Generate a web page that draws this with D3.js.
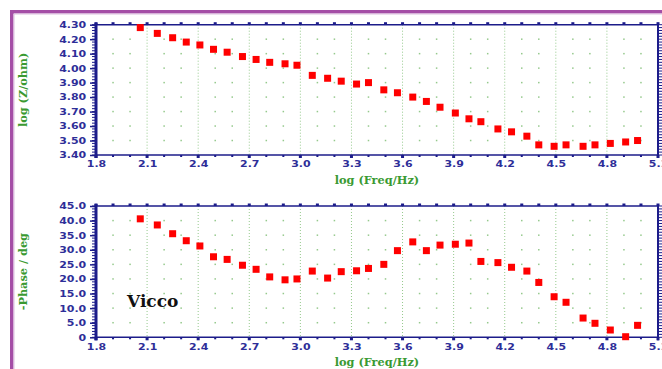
<!DOCTYPE html>
<html>
<head>
<meta charset="utf-8">
<script src="https://cdn.jsdelivr.net/npm/d3@7"></script>
<style>
  body { margin: 0; background: #fff; }
</style>
</head>
<body>
<svg id="chart" width="662" height="369"></svg>
<script>
// values
const log_freq = [2.06, 2.16, 2.25, 2.33, 2.41, 2.49, 2.57, 2.66, 2.74, 2.82, 2.91, 2.98,
                  3.07, 3.16, 3.24, 3.33, 3.40, 3.49, 3.57, 3.66, 3.74, 3.82, 3.91, 3.99,
                  4.06, 4.16, 4.24, 4.33, 4.40, 4.49, 4.56, 4.66, 4.73, 4.82, 4.91, 4.98];
const log_z = [4.28, 4.24, 4.21, 4.18, 4.16, 4.13, 4.11, 4.08, 4.06, 4.04, 4.03, 4.02,
               3.95, 3.93, 3.91, 3.89, 3.90, 3.85, 3.83, 3.80, 3.77, 3.73, 3.69, 3.65,
               3.63, 3.58, 3.56, 3.53, 3.47, 3.46, 3.47, 3.46, 3.47, 3.48, 3.49, 3.50];
const phase = [40.6, 38.5, 35.5, 33.1, 31.3, 27.6, 26.7, 24.7, 23.3, 20.7, 19.7, 20.0,
               22.7, 20.3, 22.5, 22.8, 23.6, 25.0, 29.7, 32.7, 29.7, 31.6, 31.9, 32.3,
               26.0, 25.6, 24.0, 22.7, 18.8, 13.9, 12.0, 6.6, 4.8, 2.5, 0.2, 4.1];

const x_ticks = [1.8, 2.1, 2.4, 2.7, 3.0, 3.3, 3.6, 3.9, 4.2, 4.5, 4.8, 5.1];
const z_ticks = [3.4, 3.5, 3.6, 3.7, 3.8, 3.9, 4.0, 4.1, 4.2, 4.3];
const phase_ticks = [0, 5, 10, 15, 20, 25, 30, 35, 40, 45];
const sample_name = "Vicco";

const svg = d3.select("#chart");
const navy = "#1c1c8a";
const label_blue = "#2e2e98";
const title_green = "#3a9a32";
const grid_green = "#95c98c";

// purple frame
svg.append("rect").attr("x", 10).attr("y", 10).attr("width", 652).attr("height", 3.5).attr("fill", "#a44ea6");
svg.append("rect").attr("x", 10).attr("y", 10).attr("width", 3.5).attr("height", 359).attr("fill", "#a44ea6");
svg.append("line").attr("x1", 14).attr("x2", 662).attr("y1", 14).attr("y2", 14).style("stroke", "#dcc0e0");
svg.append("line").attr("x1", 14).attr("x2", 14).attr("y1", 14).attr("y2", 369).style("stroke", "#dcc0e0");

const x_scale = d3.scaleLinear().domain([1.8, 5.1]).range([96, 658]);
const x_minor = d3.range(18, 52).map(d => d / 10);

function make_panel(y_scale, y_ticks, y_fmt, minor_step, values, y_title) {
  const g = svg.append("g");
  const [y_bot, y_top] = y_scale.range();
  const [x_left, x_right] = x_scale.range();
  const inner_y = y_ticks.slice(1, -1);

  // dotted major verticals
  g.selectAll(".vgrid")
    .data(x_ticks.slice(1, -1))
    .enter().append("line")
    .attr("x1", d => x_scale(d)).attr("x2", d => x_scale(d))
    .attr("y1", y_top).attr("y2", y_bot)
    .style("stroke", grid_green).style("stroke-width", 1)
    .style("stroke-dasharray", "1,2");

  // grid dots
  const dots = [];
  x_minor.filter(d => Math.round(d * 10) % 3 !== 0).forEach(xv => {
    inner_y.forEach(yv => dots.push([xv, yv]));
  });
  g.selectAll(".gdot")
    .data(dots)
    .enter().append("rect")
    .attr("x", d => x_scale(d[0]) - 0.75).attr("y", d => y_scale(d[1]) - 0.75)
    .attr("width", 1.5).attr("height", 1.5)
    .style("fill", grid_green);

  // top border with little squares
  g.append("line").attr("x1", x_left).attr("x2", x_right).attr("y1", y_top).attr("y2", y_top)
    .style("stroke", navy).style("stroke-width", 1.5);
  g.selectAll(".tsq")
    .data(x_minor)
    .enter().append("rect")
    .attr("x", d => x_scale(d) - 1.5).attr("y", y_top - 2.5)
    .attr("width", 3).attr("height", 2.5)
    .style("fill", navy);

  // bottom axis
  g.append("line").attr("x1", x_left).attr("x2", x_right).attr("y1", y_bot).attr("y2", y_bot)
    .style("stroke", navy).style("stroke-width", 1.5);
  g.selectAll(".bsq")
    .data(x_minor)
    .enter().append("rect")
    .attr("x", d => x_scale(d) - (Math.round(d * 10) % 3 === 0 ? 1.5 : 1))
    .attr("y", y_bot)
    .attr("width", d => Math.round(d * 10) % 3 === 0 ? 3 : 2)
    .attr("height", d => Math.round(d * 10) % 3 === 0 ? 3 : 2)
    .style("fill", navy);

  const x_axis = g.append("g")
    .attr("transform", `translate(0, ${y_bot})`)
    .call(d3.axisBottom(x_scale).tickValues(x_ticks).tickFormat(d3.format(".1f")).tickSize(0).tickPadding(6));
  x_axis.select(".domain").remove();
  x_axis.selectAll("text")
    .attr("transform", "scale(1.22,1)")
    .style("font-family", "DejaVu Sans").style("font-weight", "bold")
    .style("font-size", "9px").style("fill", label_blue);

  // left axis, thick with dense minor ticks
  const [d0, d1] = y_scale.domain();
  const minors = d3.range(0, Math.round((d1 - d0) / minor_step) + 1).map(i => d0 + i * minor_step);
  g.selectAll(".lminor")
    .data(minors)
    .enter().append("line")
    .attr("x1", x_left - 4).attr("x2", x_left)
    .attr("y1", d => y_scale(d)).attr("y2", d => y_scale(d))
    .style("stroke", navy).style("stroke-width", 1);
  g.selectAll(".rminor")
    .data(minors)
    .enter().append("line")
    .attr("x1", x_right - 1).attr("x2", x_right + 4)
    .attr("y1", d => y_scale(d)).attr("y2", d => y_scale(d))
    .style("stroke", navy).style("stroke-width", 1);

  const y_axis = g.append("g")
    .attr("transform", `translate(${x_left}, 0)`)
    .call(d3.axisLeft(y_scale).tickValues(y_ticks).tickFormat(y_fmt).tickSize(6).tickPadding(2));
  y_axis.select(".domain").remove();
  y_axis.selectAll("line").style("stroke", navy).style("stroke-width", 1.5);
  y_axis.selectAll("text")
    .attr("transform", "scale(1.22,1)")
    .style("font-family", "DejaVu Sans").style("font-weight", "bold")
    .style("font-size", "9px").style("fill", label_blue);

  g.append("line").attr("x1", x_left).attr("x2", x_left).attr("y1", y_top - 2).attr("y2", y_bot + 3)
    .style("stroke", navy).style("stroke-width", 3);
  g.append("line").attr("x1", x_right).attr("x2", x_right).attr("y1", y_top - 2).attr("y2", y_bot + 3)
    .style("stroke", navy).style("stroke-width", 2);

  // titles
  g.append("text")
    .attr("text-anchor", "middle")
    .attr("transform", `translate(${x_scale(3.45)}, ${y_bot + 29})`)
    .style("font-family", "DejaVu Serif").style("font-weight", "bold")
    .style("font-size", "11.3px").style("fill", title_green)
    .text("log (Freq/Hz)");
  g.append("text")
    .attr("text-anchor", "middle")
    .attr("transform", `translate(27, ${(y_top + y_bot) / 2}) rotate(-90)`)
    .style("font-family", "DejaVu Serif").style("font-weight", "bold")
    .style("font-size", "11.3px").style("fill", title_green)
    .text(y_title);

  // points
  g.selectAll(".pt")
    .data(log_freq.map((f, i) => [f, values[i]]))
    .enter().append("rect")
    .attr("x", d => x_scale(d[0]) - 3.5).attr("y", d => y_scale(d[1]) - 3.5)
    .attr("width", 7).attr("height", 7)
    .style("fill", "#ff0000");

  return g;
}

const z_scale = d3.scaleLinear().domain([3.4, 4.3]).range([155, 24.7]);
const phase_scale = d3.scaleLinear().domain([0, 45]).range([337.3, 206]);

make_panel(z_scale, z_ticks, d3.format(".2f"), 0.02, log_z, "log (Z/ohm)");
const lower = make_panel(phase_scale, phase_ticks, d => d === 0 ? "0" : d3.format(".1f")(d), 1, phase, "-Phase / deg");

lower.append("text")
  .attr("x", 127).attr("y", 307)
  .style("font-family", "DejaVu Serif").style("font-weight", "bold")
  .style("font-size", "17px").style("fill", "#111")
  .text(sample_name);
</script>
</body>
</html>
